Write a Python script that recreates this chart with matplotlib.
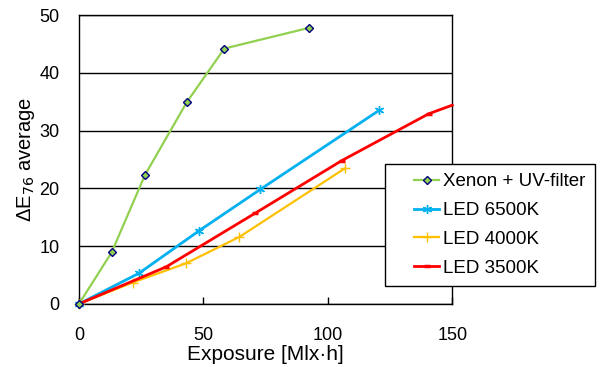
import matplotlib
matplotlib.use("Agg")
import matplotlib.pyplot as plt
from matplotlib.lines import Line2D
from matplotlib.legend_handler import HandlerLine2D

plt.rcParams['font.family'] = ['Liberation Sans', 'DejaVu Sans']

# exposure [Mlx·h] vs ΔE76 average
xenon_x = [0, 13.1, 26.5, 43.3, 58.4, 92.6]
xenon_y = [0, 8.9, 22.3, 34.9, 44.2, 47.8]
led6500_x = [0, 24.1, 48.4, 72.8, 120.6]
led6500_y = [0, 5.3, 12.7, 19.8, 33.5]
led4000_x = [0, 21.6, 42.9, 64.5, 107.0]
led4000_y = [0, 3.7, 7.0, 11.6, 23.5]
led3500_x = [0, 35.0, 70.8, 105.6, 140.5, 150.0]
led3500_y = [0, 6.4, 15.7, 24.8, 32.9, 34.4]

fig = plt.figure(figsize=(6.03, 3.67), dpi=100)
ax = fig.add_axes([0.131, 0.172, 0.619, 0.787])

ax.plot(xenon_x, xenon_y, color='#92D050', lw=1.6, marker='D', ms=4.5,
        mfc='#92D050', mec='#000080', mew=1.0, label='Xenon + UV-filter', clip_on=False, zorder=4)
ax.plot(led6500_x, led6500_y, color='#00B0F0', lw=2.0, marker=(6, 2, 0), ms=6.5,
        mec='#00B0F0', mew=1.0, label='LED 6500K', clip_on=False, zorder=3)
ax.plot(led4000_x, led4000_y, color='#FFC000', lw=1.6, marker='+', ms=7,
        mec='#FFC000', mew=1.0, label='LED 4000K', clip_on=False, zorder=3)
ax.plot(led3500_x, led3500_y, color='#FF0000', lw=2.0, marker='_', ms=5,
        mew=2.5, markevery=[0, 1, 2, 3, 4], label='LED 3500K', clip_on=False, zorder=3)

ax.set_xlim(0, 150)
ax.set_ylim(0, 50)
ax.set_xticks([0, 50, 100, 150])
ax.set_yticks([0, 10, 20, 30, 40, 50])
ax.tick_params(axis='x', direction='in', length=5, width=1, labelsize=13, pad=16.5)
ax.tick_params(axis='y', length=0, labelsize=13, pad=14)
ax.grid(axis='y', color='black', lw=1)
ax.set_axisbelow(True)
for s in ax.spines.values():
    s.set_linewidth(1)

ax.set_xlabel('Exposure [Mlx·h]', fontsize=15, labelpad=1)
ax.set_ylabel('ΔE$_{76}$ average', fontsize=14.5, labelpad=2)

leg = ax.legend(loc='upper left', bbox_to_anchor=(385 / 603, 1 - 164 / 367),
                bbox_transform=fig.transFigure, borderaxespad=0, fontsize=13.5, frameon=True,
                fancybox=False, edgecolor='black', framealpha=1,
                handlelength=2.4, handletextpad=0.2, borderpad=0.5, labelspacing=0.62,
                handler_map={Line2D: HandlerLine2D(xpad=1.05)})
leg.get_frame().set_linewidth(1)

fig.savefig('out.png', dpi=100)
